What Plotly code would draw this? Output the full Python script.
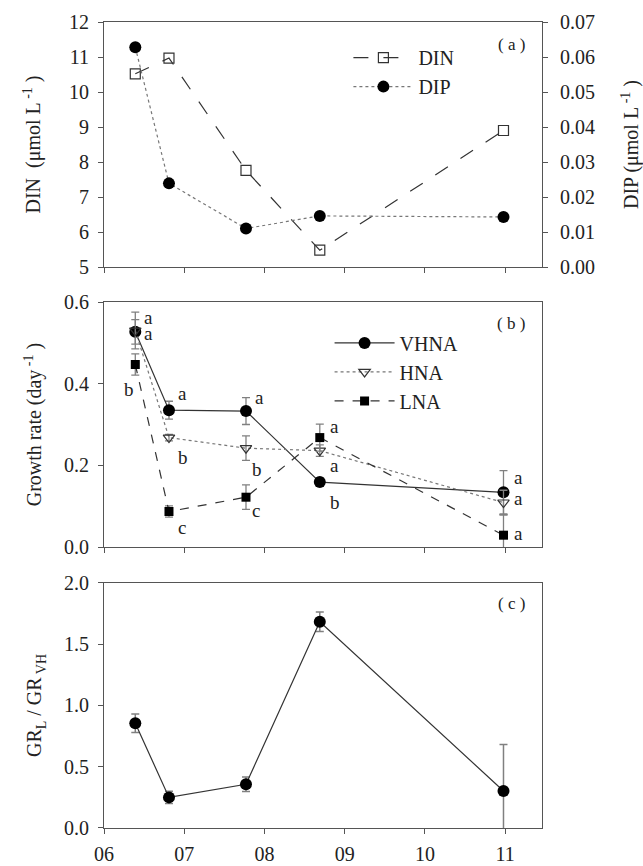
import plotly.graph_objects as go

# ---------------- data ----------------
months = [6.39, 6.81, 7.77, 8.69, 10.98]
tick_vals = [6, 7, 8, 9, 10, 11]
tick_text = ["06", "07", "08", "09", "10", "11"]

din = [10.52, 10.97, 7.76, 5.48, 8.90]
dip = [0.0628, 0.0239, 0.0110, 0.0146, 0.0143]

vhna = [0.527, 0.335, 0.333, 0.159, 0.134]
vhna_err = [0.030, 0.022, 0.033, 0.010, 0.053]
hna = [0.530, 0.268, 0.242, 0.236, 0.109]
hna_err = [0.045, 0.008, 0.030, 0.014, 0.030]
lna = [0.447, 0.087, 0.122, 0.268, 0.029]
lna_err = [0.026, 0.014, 0.030, 0.033, 0.050]

ratio = [0.855, 0.25, 0.357, 1.684, 0.302]
ratio_err = [0.075, 0.05, 0.06, 0.08, 0.38]

# significance letters (month, value, letter)
letters = [
    (6.47, 0.563, "a"), (6.47, 0.522, "a"), (6.22, 0.385, "b"),
    (6.90, 0.377, "a"), (6.90, 0.220, "b"), (6.90, 0.049, "c"),
    (7.86, 0.367, "a"), (7.82, 0.190, "b"), (7.82, 0.090, "c"),
    (8.79, 0.296, "a"), (8.79, 0.200, "a"), (8.79, 0.110, "b"),
    (11.09, 0.171, "a"), (11.09, 0.118, "a"), (11.09, 0.032, "a"),
]

FONT = "Liberation Serif, Times New Roman, serif"
LINE = "#333333"
AX = "#555555"
ERR = "#808080"
FS = 20

fig = go.Figure()

# ---- panel (a)
fig.add_trace(go.Scatter(
    x=months, y=din, name="DIN", mode="lines+markers",
    line=dict(color=LINE, width=1.2, dash="longdash"),
    marker=dict(symbol="square-open", size=10, color=LINE, line=dict(width=1.2)),
    xaxis="x", yaxis="y", legend="legend", legendgroup="g1"))
fig.add_trace(go.Scatter(
    x=months, y=dip, name="DIP", mode="lines+markers",
    line=dict(color="#777777", width=1.2, dash="dot"),
    marker=dict(symbol="circle", size=12, color="black"),
    xaxis="x", yaxis="y2", legend="legend", legendgroup="g2"))

# ---- panel (b)
err_style = dict(type="data", color=ERR, thickness=1.3, width=4)
fig.add_trace(go.Scatter(
    x=months, y=vhna, name="VHNA", mode="lines+markers",
    error_y=dict(array=vhna_err, **err_style),
    line=dict(color=LINE, width=1.2),
    marker=dict(symbol="circle", size=12, color="black"),
    xaxis="x2", yaxis="y3", legend="legend2", legendgroup="g3"))
fig.add_trace(go.Scatter(
    x=months, y=hna, name="HNA", mode="lines+markers",
    error_y=dict(array=hna_err, **err_style),
    line=dict(color="#777777", width=1.2, dash="dot"),
    marker=dict(symbol="triangle-down-open", size=10, color=LINE, line=dict(width=1.2)),
    xaxis="x2", yaxis="y3", legend="legend2", legendgroup="g4"))
fig.add_trace(go.Scatter(
    x=months, y=lna, name="LNA", mode="lines+markers",
    error_y=dict(array=lna_err, **err_style),
    line=dict(color=LINE, width=1.2, dash="dash"),
    marker=dict(symbol="square", size=9, color="black"),
    xaxis="x2", yaxis="y3", legend="legend2", legendgroup="g5"))

# ---- panel (c)
fig.add_trace(go.Scatter(
    x=months, y=ratio, name="ratio", mode="lines+markers", showlegend=False,
    error_y=dict(array=ratio_err, type="data", color=ERR, thickness=1.5, width=4),
    line=dict(color=LINE, width=1.2),
    marker=dict(symbol="circle", size=12, color="black"),
    xaxis="x3", yaxis="y4"))

tickfont = dict(family=FONT, size=FS, color="#222")
xcommon = dict(range=[6, 11.46], tickvals=tick_vals, ticktext=tick_text,
               showline=True, linecolor=AX, linewidth=1.2, mirror=True,
               ticks="outside", ticklen=5, tickcolor=AX, showgrid=False,
               zeroline=False, tickfont=tickfont, ticklabelstandoff=3,
               automargin=False)
ycommon = dict(showline=True, linecolor=AX, linewidth=1.2, mirror=True,
               ticks="outside", ticklen=5, tickcolor=AX, showgrid=False,
               zeroline=False, tickfont=tickfont, ticklabelstandoff=5,
               automargin=False)
tfont = dict(family=FONT, size=FS, color="#222")

ann = []
for mx, v, t in letters:
    ann.append(dict(x=mx, y=v, xref="x2", yref="y3", text=t, showarrow=False,
                    xanchor="left", yanchor="middle",
                    font=dict(family=FONT, size=19, color="#222")))
for lab, yr in [("( a )", 0.972), ("( b )", 0.626), ("( c )", 0.279)]:
    ann.append(dict(x=0.93, y=yr, xref="paper", yref="paper", text=lab,
                    showarrow=False, xanchor="center", yanchor="middle",
                    font=dict(family=FONT, size=17, color="#222")))

legfont = dict(family=FONT, size=FS, color="#222")
fig.update_layout(
    width=643, height=866,
    margin=dict(l=104, r=101, t=22, b=38, autoexpand=False),
    paper_bgcolor="white", plot_bgcolor="white",
    font=dict(family=FONT, size=FS, color="#222"),
    xaxis=dict(domain=[0, 1], anchor="y", showticklabels=False, **xcommon),
    xaxis2=dict(domain=[0, 1], anchor="y3", showticklabels=False, **xcommon),
    xaxis3=dict(domain=[0, 1], anchor="y4", **xcommon),
    yaxis=dict(domain=[0.696, 1.0], range=[5, 12], dtick=1,
               title=dict(text="DIN  (μmol L<sup> -1</sup> )", font=tfont, standoff=22),
               **ycommon),
    yaxis2=dict(overlaying="y", side="right", anchor="x", range=[0, 0.07],
                dtick=0.01, tickformat=".2f", automargin=False,
                title=dict(text="DIP (μmol L<sup> -1</sup> )", font=tfont, standoff=30),
                showline=True, linecolor=AX, linewidth=1.2,
                ticks="outside", ticklen=5, tickcolor=AX, showgrid=False,
                zeroline=False, tickfont=tickfont, ticklabelstandoff=8),
    yaxis3=dict(domain=[0.3486, 0.6526], range=[0, 0.6], dtick=0.2,
                tickformat=".1f", anchor="x2",
                title=dict(text="Growth rate (day<sup> -1</sup> )", font=tfont, standoff=16),
                **ycommon),
    yaxis4=dict(domain=[0, 0.304], range=[0, 2.0], dtick=0.5,
                tickformat=".1f", anchor="x3",
                title=dict(text="GR<sub>L</sub> / GR<sub> VH</sub>", font=tfont, standoff=16),
                **ycommon),
    legend=dict(x=0.558, y=0.980, xanchor="left", yanchor="top",
                bgcolor="rgba(0,0,0,0)", font=legfont,
                itemwidth=60, tracegroupgap=0),
    legend2=dict(x=0.515, y=0.626, xanchor="left", yanchor="top",
                 bgcolor="rgba(0,0,0,0)", font=legfont,
                 itemwidth=60, tracegroupgap=0),
    annotations=ann,
)

fig.write_html("out.html")
